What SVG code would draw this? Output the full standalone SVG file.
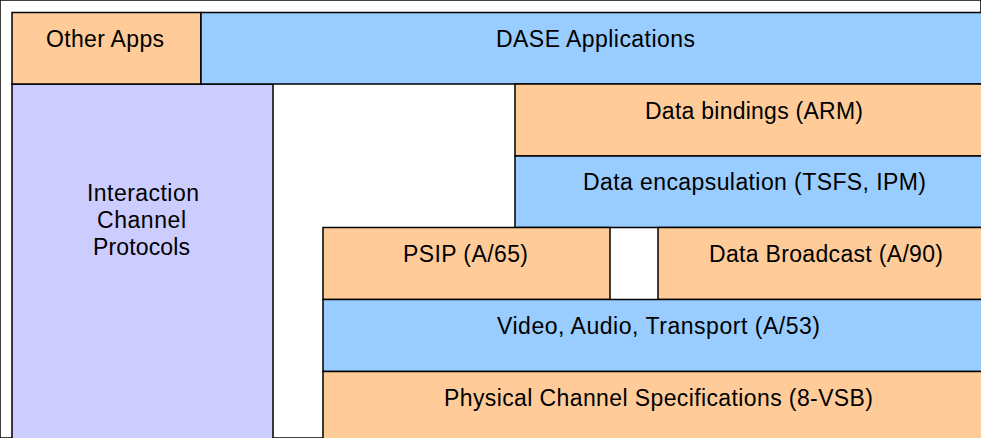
<svg xmlns="http://www.w3.org/2000/svg" width="981" height="438" viewBox="0 0 981 438">
<style>
rect{stroke:#000;stroke-width:1.5}
.o{fill:#FFCC99}.b{fill:#99CCFF}.p{fill:#CCCCFF}
text{font-family:"Liberation Sans",Arial,sans-serif;font-size:23px;fill:#000;text-anchor:middle}
</style>
<rect x="0" y="0" width="981" height="438" fill="#fff" stroke="none"/>
<g id="interaction"><rect class="p" x="12" y="84" width="261" height="370"/>
<text x="143" y="200.5" textLength="112" lengthAdjust="spacing">Interaction</text>
<text x="141.5" y="228" textLength="89" lengthAdjust="spacing">Channel</text>
<text x="141.5" y="255" textLength="97" lengthAdjust="spacing">Protocols</text></g>
<g id="other-apps"><rect class="o" x="12" y="12.5" width="189" height="71.5"/>
<text x="105" y="47" textLength="118" lengthAdjust="spacing">Other Apps</text></g>
<g id="dase"><rect class="b" x="201" y="12.5" width="792" height="71.5"/>
<text x="595.5" y="47" textLength="199" lengthAdjust="spacing">DASE Applications</text></g>
<g id="data-bindings"><rect class="o" x="515" y="84" width="480" height="72"/>
<text x="754" y="119" textLength="218" lengthAdjust="spacing">Data bindings (ARM)</text></g>
<g id="data-encapsulation"><rect class="b" x="515" y="156" width="480" height="71.5"/>
<text x="754.5" y="189.5" textLength="343" lengthAdjust="spacing">Data encapsulation (TSFS, IPM)</text></g>
<g id="psip"><rect class="o" x="323" y="227.5" width="287" height="72"/>
<text x="465.5" y="262" textLength="125" lengthAdjust="spacing">PSIP (A/65)</text></g>
<g id="data-broadcast"><rect class="o" x="658" y="227.5" width="340" height="72"/>
<text x="826" y="262" textLength="234" lengthAdjust="spacing">Data Broadcast (A/90)</text></g>
<g id="video-audio-transport"><rect class="b" x="323" y="299.5" width="675" height="72"/>
<text x="658.5" y="334" textLength="323" lengthAdjust="spacing">Video, Audio, Transport (A/53)</text></g>
<g id="physical"><rect class="o" x="323" y="371.5" width="675" height="80"/>
<text x="658.5" y="405.5" textLength="429" lengthAdjust="spacing">Physical Channel Specifications (8-VSB)</text></g>
<g id="connectors"/>
</svg>
